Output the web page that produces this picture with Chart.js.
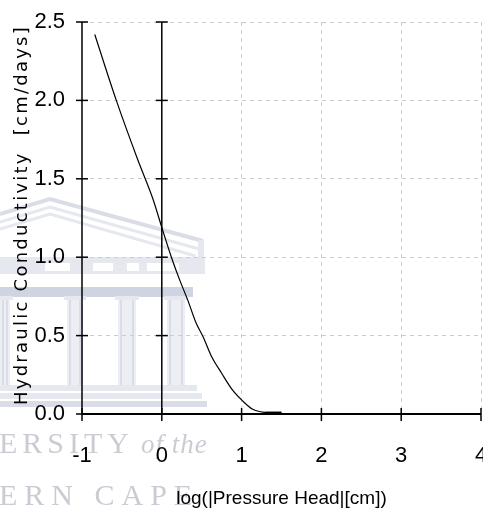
<!DOCTYPE html>
<html>
<head>
<meta charset="utf-8">
<script src="https://cdn.jsdelivr.net/npm/chart.js@4.4.0/dist/chart.umd.min.js"></script>
<style>
  html, body { margin: 0; padding: 0; background: #fff; }
  #wrap { width: 483px; height: 513px; }
</style>
</head>
<body>
<div id="wrap"><canvas id="chart" width="483" height="513"></canvas></div>
<script>
// values
const logHead = [-0.84, -0.57, -0.3, -0.11, 0.0, 0.12, 0.22, 0.33, 0.43, 0.52, 0.62, 0.75, 0.89, 1.02, 1.14, 1.29, 1.5];
const conductivity = [2.42, 2.0, 1.62, 1.37, 1.19, 1.0, 0.86, 0.72, 0.58, 0.49, 0.37, 0.26, 0.15, 0.08, 0.03, 0.01, 0.005];
const tailX = [1.3, 1.5];
const tailY = [0.006, 0.006];
const xTicks = [-1, 0, 1, 2, 3, 4];
const yTicks = [0, 0.5, 1.0, 1.5, 2.0, 2.5];
const solidX = [-1, 0];
const xTitle = 'log(|Pressure Head|[cm])';
const yTitle = 'Hydraulic Conductivity  [cm/days]';
const markLines = ['ERSITY', 'of the', 'ERN CAPE'];

const narrow = '"Liberation Sans Narrow", "Arial Narrow", "Liberation Sans", sans-serif';

const toPoints = (xs, ys) => xs.map((v, i) => ({x: v, y: ys[i]}));

// faded university logo behind the plot
const watermark = {
    id: 'watermark',
    beforeDraw(chart) {
        const ctx = chart.ctx;
        const light = '#e6e8f0', mid = '#dadde8', dark = '#d0d4e2';
        ctx.save();
        // roof, a few parallel bands
        ctx.lineJoin = 'miter';
        [[0, 4, mid], [8, 3, light], [15, 3, light]].forEach(r => {
            ctx.strokeStyle = r[2];
            ctx.lineWidth = r[1];
            ctx.beginPath();
            ctx.moveTo(0, 214 + r[0]);
            ctx.lineTo(50, 199 + r[0]);
            ctx.lineTo(203 - r[0] / 2, 241 + r[0]);
            ctx.stroke();
        });
        ctx.fillStyle = light;
        ctx.fillRect(198, 240, 6, 17);
        // entablature with gaps
        ctx.fillRect(0, 257, 205, 17);
        ctx.fillStyle = '#fff';
        [[45, 25], [93, 20], [127, 12], [147, 32]].forEach(g => ctx.fillRect(g[0], 263, g[1], 8));
        ctx.fillStyle = dark;
        ctx.fillRect(0, 287, 193, 10);
        // columns
        [[0, 10], [67, 16], [118, 18], [167, 18]].forEach(c => {
            ctx.fillStyle = '#eceef4';
            ctx.fillRect(c[0], 297, c[1], 88);
            ctx.fillStyle = light;
            ctx.fillRect(c[0] - 3, 296, c[1] + 6, 4);
            ctx.fillStyle = mid;
            ctx.fillRect(c[0] + 2, 300, 2, 85);
            ctx.fillRect(c[0] + c[1] - 4, 300, 2, 85);
        });
        // steps
        ctx.fillStyle = light;
        ctx.fillRect(0, 385, 197, 6);
        ctx.fillRect(0, 393, 202, 6);
        ctx.fillStyle = mid;
        ctx.fillRect(0, 401, 207, 6);
        // text
        ctx.fillStyle = '#cbccd3';
        ctx.textBaseline = 'alphabetic';
        ctx.font = '30px "Liberation Serif", serif';
        ctx.letterSpacing = '5px';
        ctx.fillText(markLines[0], -1, 453);
        ctx.font = 'italic 27px "Liberation Serif", serif';
        ctx.letterSpacing = '1px';
        ctx.fillText(markLines[1], 141, 453);
        ctx.font = '30px "Liberation Serif", serif';
        ctx.letterSpacing = '7px';
        ctx.fillText(markLines[2], -1, 505);
        ctx.restore();
    }
};

// solid axes at x=-1, x=0 and y=0 with ticks that cross them
const axisLines = {
    id: 'axisLines',
    beforeDatasetsDraw(chart) {
        const {ctx, chartArea: a, scales: {x, y}} = chart;
        const line = (x1, y1, x2, y2) => { ctx.beginPath(); ctx.moveTo(x1, y1); ctx.lineTo(x2, y2); ctx.stroke(); };
        ctx.save();
        ctx.strokeStyle = '#000';
        ctx.lineWidth = 1.5;
        solidX.forEach(v => {
            const px = x.getPixelForValue(v);
            line(px, a.top, px, a.bottom);
            yTicks.forEach(t => {
                const py = y.getPixelForValue(t);
                line(px - 6, py, px + 6, py);
            });
        });
        const py0 = y.getPixelForValue(0);
        ctx.lineWidth = 2;
        line(a.left, py0, a.right, py0);
        ctx.lineWidth = 1.5;
        xTicks.forEach(t => {
            const px = x.getPixelForValue(t);
            line(px, py0 - 6, px, py0 + 7);
        });
        ctx.restore();
    }
};

// rotated y title, stretched over the axis like the original
const yTitlePlugin = {
    id: 'yTitle',
    afterDraw(chart) {
        const {ctx, chartArea: a} = chart;
        ctx.save();
        ctx.font = '18px "DejaVu Sans", Verdana, sans-serif';
        const w = ctx.measureText(yTitle).width;
        ctx.letterSpacing = Math.max(0, (380 - w) / yTitle.length) + 'px';
        ctx.translate(27, (a.top + a.bottom) / 2 - 3);
        ctx.rotate(-Math.PI / 2);
        ctx.fillStyle = '#000';
        ctx.textAlign = 'center';
        ctx.textBaseline = 'alphabetic';
        ctx.fillText(yTitle, 0, 0);
        ctx.restore();
    }
};

const dashed = '#cccccc';

new Chart(document.getElementById('chart').getContext('2d'), {
    type: 'scatter',
    data: {
        datasets: [
            {
                label: 'K',
                data: toPoints(logHead, conductivity),
                showLine: true,
                borderColor: '#000',
                borderWidth: 1.2,
                pointRadius: 0,
                cubicInterpolationMode: 'monotone'
            },
            {
                label: 'tail',
                data: toPoints(tailX, tailY),
                showLine: true,
                borderColor: '#000',
                borderWidth: 3,
                pointRadius: 0
            }
        ]
    },
    options: {
        responsive: false,
        animation: false,
        devicePixelRatio: 1,
        layout: {padding: {top: 22, right: 2, left: 0, bottom: 0}},
        plugins: {
            legend: {display: false},
            tooltip: {enabled: false}
        },
        scales: {
            x: {
                type: 'linear',
                min: -1,
                max: 4,
                afterBuildTicks: s => { s.ticks = xTicks.map(v => ({value: v})); },
                afterFit: s => { s.height = 99; s.paddingLeft = 0; s.paddingRight = 0; },
                grid: {
                    color: c => solidX.includes(c.tick.value) ? 'rgba(0,0,0,0)' : dashed,
                    lineWidth: 1,
                    drawTicks: false
                },
                border: {display: false, dash: [4, 4]},
                ticks: {
                    padding: 29,
                    color: '#000',
                    maxRotation: 0,
                    font: {family: narrow, size: 22}
                },
                title: {
                    display: true,
                    text: xTitle,
                    color: '#000',
                    font: {family: narrow, size: 19},
                    padding: {top: 0, bottom: 3}
                }
            },
            y: {
                type: 'linear',
                min: 0,
                max: 2.5,
                afterBuildTicks: s => { s.ticks = yTicks.map(v => ({value: v})); },
                afterFit: s => { s.width = 82; s.paddingTop = 0; s.paddingBottom = 0; },
                grid: {
                    color: c => c.tick.value === 0 ? 'rgba(0,0,0,0)' : dashed,
                    lineWidth: 1,
                    drawTicks: false
                },
                border: {display: false, dash: [4, 4]},
                ticks: {
                    padding: 17,
                    color: '#000',
                    font: {family: narrow, size: 22},
                    callback: v => v.toFixed(1)
                }
            }
        }
    },
    plugins: [watermark, axisLines, yTitlePlugin]
});
</script>
</body>
</html>
